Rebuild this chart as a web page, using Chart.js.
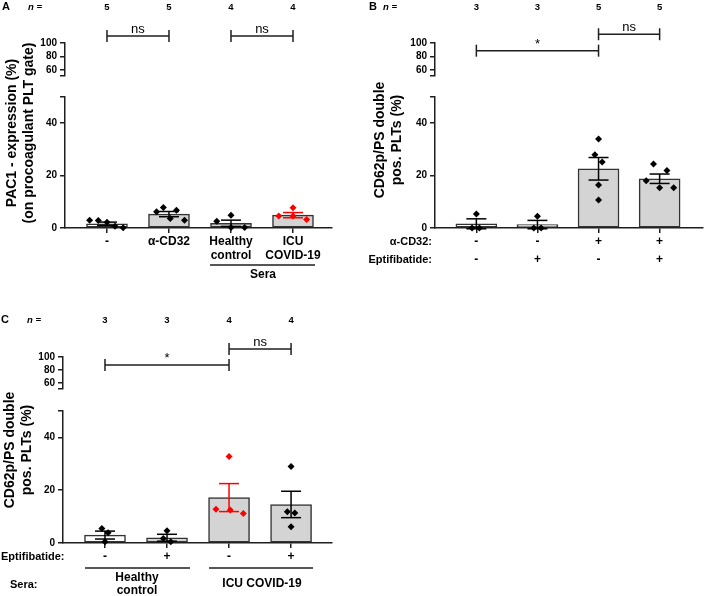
<!DOCTYPE html>
<html>
<head>
<meta charset="utf-8">
<script src="https://cdn.jsdelivr.net/npm/chart.js@4.4.1/dist/chart.umd.min.js"></script>
<style>
  body { margin: 0; background: #fff; }
  #fig { position: relative; width: 707px; height: 596px; overflow: hidden; background: #fff; }
  canvas { position: absolute; }
</style>
</head>
<body>
<div id="fig">
  <canvas id="cA" width="345" height="300" style="left:0;top:0"></canvas>
  <canvas id="cB" width="352" height="300" style="left:355px;top:0"></canvas>
  <canvas id="cC" width="345" height="291" style="left:0;top:305px"></canvas>
</div>
<script>
// --- Dados ---

// Painel A: PAC1
const labelsA = [['-'], ['α-CD32'], ['Healthy', 'control'], ['ICU', 'COVID-19']];
const nA = [5, 5, 4, 4];
const meanA = [1.6, 5.3, 1.8, 4.9];
const semA = [0.65, 1.0, 1.2, 1.0];
const pointsA = [[3.0, 2.9, 2.2, 0.7, 0.1], [6.2, 7.8, 3.6, 6.8, 3.0], [2.6, 4.9, 0.2, 0.2], [4.6, 7.7, 4.6, 3.2]];
const jitterA = [[-0.28, -0.14, 0, 0.13, 0.26], [-0.2, -0.09, 0.02, 0.12, 0.25], [-0.23, 0, 0, 0.22], [-0.23, 0, 0, 0.22]];
const bracketsA = [{ from: 0, to: 1, at: 110.5, text: 'ns' }, { from: 2, to: 3, at: 110.5, text: 'ns' }];

// Painel B: CD62p/PS, alfa-CD32 +/- eptifibatide
const cd32B = ['-', '-', '+', '+'];
const eptB = ['-', '+', '-', '+'];
const nB = [3, 3, 5, 5];
const meanB = [1.6, 1.3, 22.6, 18.8];
const semB = [1.9, 1.6, 4.3, 1.8];
const pointsB = [[5.3, 0, 0], [4.5, 0, 0], [34, 28, 25.2, 16.4, 10.7], [24.4, 21.9, 18, 15.4, 15.4]];
const jitterB = [[0, -0.07, 0.05], [0, -0.06, 0.06], [0, -0.06, 0.06, 0, 0], [-0.1, 0.12, -0.22, 0, 0.23]];
const bracketsB = [{ from: 0, to: 2, at: 88.6, text: '*' }, { from: 2, to: 3, at: 113, text: 'ns' }];

// Painel C: CD62p/PS, soros
const eptC = ['-', '+', '-', '+'];
const nC = [3, 3, 4, 4];
const meanC = [3.0, 2.0, 17.2, 14.6];
const semC = [1.5, 1.3, 5.3, 5.0];
const pointsC = [[5.5, 3.9, 0.5], [4.6, 1.7, 0.5], [32.8, 12.8, 12.5, 11.2], [29, 11.8, 11.4, 6.2]];
const jitterC = [[-0.05, 0.05, 0], [0, -0.06, 0.06], [0, -0.21, 0.02, 0.23], [0, -0.06, 0.06, 0]];
const bracketsC = [{ from: 0, to: 2, at: 87.7, text: '*' }, { from: 2, to: 3, at: 112.3, text: 'ns' }];

// --- Estilo ---
Chart.defaults.font.family = '"Liberation Sans", Arial, sans-serif';
Chart.defaults.color = '#000';

const corEixo = '#1e1e1e';
const corBorda = '#333333';
const cinza = '#d4d4d4';
const vermelho = '#ff0000';
const fonteTitulo = 'bold 14px "Liberation Sans", Arial, sans-serif';
const fonteLinha = 'bold 11px "Liberation Sans", Arial, sans-serif';
const fonteRotulo = 'bold 12px "Liberation Sans", Arial, sans-serif';

const soTicks = (valores) => (scale) => { scale.ticks = valores.map(v => ({ value: v })); };
const larguraFixa = (w) => (scale) => { scale.width = w; };
const alturaFixa = (h) => (scale) => { scale.height = h; };

function texto(ctx, s, x, y, font, align = 'center') {
    ctx.save();
    ctx.font = font;
    ctx.fillStyle = '#000';
    ctx.textAlign = align;
    ctx.textBaseline = 'middle';
    ctx.fillText(s, x, y);
    ctx.restore();
}

function textoVertical(ctx, s, x, y, font) {
    ctx.save();
    ctx.translate(x, y);
    ctx.rotate(-Math.PI / 2);
    texto(ctx, s, 0, 0, font);
    ctx.restore();
}

function linha(ctx, x1, y1, x2, y2, cor = corEixo, w = 1.5) {
    ctx.save();
    ctx.strokeStyle = cor;
    ctx.lineWidth = w;
    ctx.beginPath();
    ctx.moveTo(x1, y1);
    ctx.lineTo(x2, y2);
    ctx.stroke();
    ctx.restore();
}

function eixoY(cfg) {
    return {
        type: 'linear',
        position: 'left',
        stack: 'esq',
        bounds: 'data',
        afterFit: larguraFixa(30),
        border: { color: corEixo, width: 1.5 },
        grid: { drawOnChartArea: false, drawTicks: true, tickLength: 5, color: corEixo, lineWidth: 1.5 },
        ticks: {
            autoSkip: false,
            padding: 3,
            font: { size: 10, weight: 'bold' },
            callback: v => (cfg.rotulos.includes(v) ? String(v) : '')
        },
        ...cfg.extra
    };
}

function montarPainel(id, p) {
    const canvas = document.getElementById(id);
    const W = canvas.width, H = canvas.height;
    const fundo = p.top + p.hHigh + p.hGap + p.hLow;
    const cores = p.red.map(r => (r ? vermelho : '#000'));

    const pontos = [];
    const coresPontos = [];
    p.points.forEach((grupo, i) => grupo.forEach((v, j) => {
        pontos.push({ x: i + p.jitter[i][j], y: v });
        coresPontos.push(cores[i]);
    }));

    const decoracao = {
        id: 'decoracao_' + id,
        afterDatasetsDraw(chart) {
            const ctx = chart.ctx;
            const xs = chart.scales.x, yl = chart.scales.yLow, yh = chart.scales.yHigh;
            // barras de erro (média ± EPM)
            p.mean.forEach((m, i) => {
                const x = xs.getPixelForValue(i);
                const t = yl.getPixelForValue(m + p.sem[i]);
                const b = yl.getPixelForValue(m - p.sem[i]);
                linha(ctx, x, t, x, b, cores[i]);
                linha(ctx, x - 10, t, x + 10, t, cores[i]);
                linha(ctx, x - 10, b, x + 10, b, cores[i]);
            });
            // colchetes de significância
            p.brackets.forEach(br => {
                const x1 = xs.getPixelForValue(br.from);
                const x2 = xs.getPixelForValue(br.to);
                const y = yh.getPixelForValue(br.at);
                linha(ctx, x1, y, x2, y);
                linha(ctx, x1, y - 6, x1, y + 6);
                linha(ctx, x2, y - 6, x2, y + 6);
                ctx.save();
                ctx.font = '13px "Liberation Sans", Arial, sans-serif';
                ctx.fillStyle = '#000';
                ctx.textAlign = 'center';
                ctx.textBaseline = 'alphabetic';
                ctx.fillText(br.text, (x1 + x2) / 2, y - 3);
                ctx.restore();
            });
        },
        afterDraw(chart) {
            const ctx = chart.ctx;
            texto(ctx, p.letter, p.letterX, p.nY, 'bold 11px "Liberation Sans", Arial, sans-serif');
            texto(ctx, 'n =', p.nX, p.nY, 'italic bold 9.5px "Liberation Sans", Arial, sans-serif', 'left');
            p.title.forEach((s, k) => textoVertical(ctx, s, p.titleX[k], p.titleY, fonteTitulo));
            if (p.extra) p.extra(ctx, chart);
        }
    };

    return new Chart(canvas, {
        type: 'bar',
        data: {
            datasets: [
                {
                    type: 'bar',
                    data: p.mean.map((v, i) => ({ x: i, y: v })),
                    xAxisID: 'x',
                    yAxisID: 'yLow',
                    backgroundColor: p.fills,
                    borderColor: corBorda,
                    borderWidth: 1.5,
                    borderSkipped: false,
                    barThickness: 41,
                    order: 2
                },
                {
                    type: 'scatter',
                    data: pontos,
                    xAxisID: 'x',
                    yAxisID: 'yLow',
                    pointStyle: 'rectRot',
                    pointRadius: 3.5,
                    pointBackgroundColor: coresPontos,
                    pointBorderColor: coresPontos,
                    pointBorderWidth: 0,
                    clip: false,
                    order: 1
                }
            ]
        },
        options: {
            responsive: false,
            animation: false,
            layout: { padding: { left: p.left - 30, right: W - p.right, top: 0, bottom: 0 } },
            plugins: { legend: { display: false }, tooltip: { enabled: false } },
            scales: {
                x: {
                    type: 'linear',
                    position: 'bottom',
                    min: p.xMin,
                    max: p.xMax,
                    bounds: 'data',
                    offset: false,
                    afterBuildTicks: soTicks([0, 1, 2, 3]),
                    afterFit: alturaFixa(H - fundo),
                    border: { color: corEixo, width: 1.5 },
                    grid: { offset: false, drawOnChartArea: false, drawTicks: true, tickLength: 5, color: corEixo, lineWidth: 1.5 },
                    ticks: {
                        autoSkip: false,
                        maxRotation: 0,
                        padding: p.tickPad,
                        font: { size: 12, weight: 'bold', lineHeight: p.lineHeight },
                        callback: v => p.xLabels[v]
                    }
                },
                x2: {
                    type: 'linear',
                    position: 'top',
                    min: p.xMin,
                    max: p.xMax,
                    bounds: 'data',
                    offset: false,
                    afterBuildTicks: soTicks([0, 1, 2, 3]),
                    afterFit: alturaFixa(p.top),
                    border: { display: false },
                    grid: { display: false, offset: false, drawTicks: false },
                    ticks: {
                        autoSkip: false,
                        maxRotation: 0,
                        padding: p.nPad,
                        font: { size: 9.5, weight: 'bold' },
                        callback: v => String(p.n[v])
                    }
                },
                yHigh: eixoY({ rotulos: [60, 80, 100], extra: {
                    min: 51, max: 100, stackWeight: p.hHigh, weight: 3,
                    afterBuildTicks: soTicks([51, 60, 80, 100])
                } }),
                yGap: {
                    type: 'linear',
                    position: 'left',
                    stack: 'esq',
                    stackWeight: p.hGap,
                    weight: 2,
                    min: 0,
                    max: 1,
                    afterFit: larguraFixa(30),
                    border: { display: false },
                    grid: { display: false },
                    ticks: { display: false }
                },
                yLow: eixoY({ rotulos: [0, 20, 40], extra: {
                    min: 0, max: 50, stackWeight: p.hLow, weight: 1,
                    afterBuildTicks: soTicks([0, 20, 40, 50])
                } })
            }
        },
        plugins: [decoracao]
    });
}

// --- Painel A ---
montarPainel('cA', {
    xLabels: labelsA, n: nA, mean: meanA, sem: semA, points: pointsA, jitter: jitterA, brackets: bracketsA,
    red: [false, false, false, true],
    fills: ['#ffffff', cinza, cinza, cinza],
    left: 65, right: 332, top: 43, hHigh: 33, hGap: 21, hLow: 131,
    xMin: -0.677, xMax: 3.629, tickPad: 2.5, lineHeight: 1.1, nPad: 30,
    letter: 'A', letterX: 6, nX: 28, nY: 7,
    title: ['PAC1 - expression (%)', '(on procoagulant PLT gate)'], titleX: [12, 29], titleY: 133,
    extra(ctx) {
        linha(ctx, 210, 265, 315, 265);
        texto(ctx, 'Sera', 263, 275, fonteRotulo);
    }
});

// --- Painel B ---
montarPainel('cB', {
    xLabels: cd32B.map((c, i) => [c, eptB[i]]), n: nB, mean: meanB, sem: semB, points: pointsB, jitter: jitterB, brackets: bracketsB,
    red: [false, false, false, false],
    fills: ['#ffffff', '#ffffff', cinza, cinza],
    left: 80, right: 352, top: 43, hHigh: 33, hGap: 21, hLow: 131,
    xMin: -0.677, xMax: 3.71, tickPad: 0, lineHeight: 1.5, nPad: 30,
    letter: 'B', letterX: 18, nX: 28, nY: 7,
    title: ['CD62p/PS double', 'pos. PLTs (%)'], titleX: [25.5, 42], titleY: 140,
    extra(ctx) {
        texto(ctx, 'α-CD32:', 77, 242, fonteLinha, 'right');
        texto(ctx, 'Eptifibatide:', 77, 260, fonteLinha, 'right');
    }
});

// --- Painel C ---
montarPainel('cC', {
    xLabels: eptC.map(e => [e]), n: nC, mean: meanC, sem: semC, points: pointsC, jitter: jitterC, brackets: bracketsC,
    red: [false, false, true, false],
    fills: ['#ffffff', cinza, cinza, cinza],
    left: 63, right: 332, top: 52, hHigh: 32, hGap: 22, hLow: 132,
    xMin: -0.677, xMax: 3.66, tickPad: 1.5, lineHeight: 1.2, nPad: 31,
    letter: 'C', letterX: 5, nX: 27, nY: 15,
    title: ['CD62p/PS double', 'pos. PLTs (%)'], titleX: [10, 27], titleY: 145,
    extra(ctx) {
        texto(ctx, 'Eptifibatide:', 64.5, 252, fonteLinha, 'right');
        linha(ctx, 85, 263, 190, 263);
        linha(ctx, 209, 263, 313, 263);
        texto(ctx, 'Sera:', 10, 280, fonteLinha, 'left');
        texto(ctx, 'Healthy', 137, 273, fonteRotulo);
        texto(ctx, 'control', 137, 286, fonteRotulo);
        texto(ctx, 'ICU COVID-19', 262, 279, fonteRotulo);
    }
});
</script>
</body>
</html>
